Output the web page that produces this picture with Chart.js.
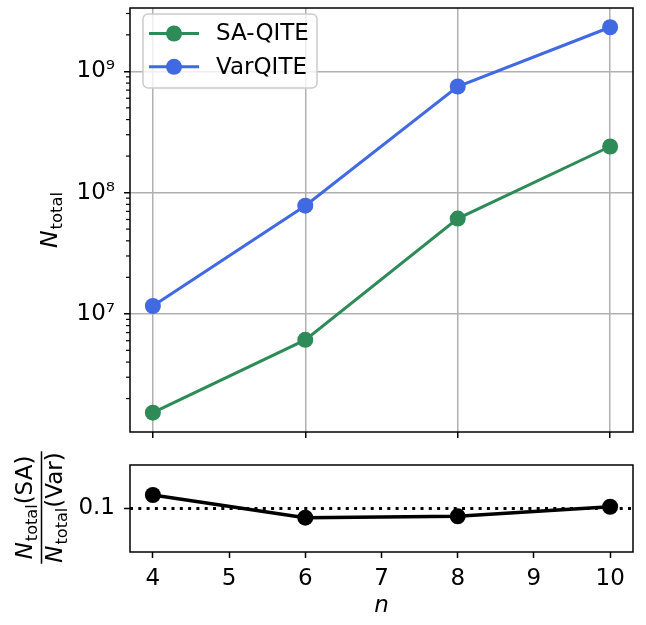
<!DOCTYPE html>
<html>
<head>
<meta charset="utf-8">
<script src="https://cdn.jsdelivr.net/npm/chart.js@4.4.1/dist/chart.umd.min.js"></script>
<style>
  body { margin: 0; background: #fff; }
  #wrap { position: relative; width: 646px; height: 625px; }
  #top { position: absolute; left: 0; top: 0; }
  #bot { position: absolute; left: 0; top: 440px; }
</style>
</head>
<body>
<div id="wrap">
  <canvas id="top" width="646" height="440"></canvas>
  <canvas id="bot" width="646" height="185"></canvas>
</div>
<script>
// values
const nValues    = [4, 6, 8, 10];
const saQite     = [1.53e6, 6.1e6, 6.1e7, 2.4e8];
const varQite    = [1.16e7, 7.8e7, 7.5e8, 2.31e9];
const ratio      = [0.131, 0.079, 0.082, 0.104];
const nTicksTop  = [4, 6, 8, 10];
const nTicksBot  = [4, 5, 6, 7, 8, 9, 10];
const yMajorTop  = [1e7, 1e8, 1e9];
const ratioTicks = [0.1];
const refRatio   = 0.1;

const GREEN = '#2e8b57';
const BLUE  = '#4169e1';
const GRID  = '#b0b0b0';
const FAM   = "'DejaVu Sans'";

Chart.defaults.font.family = 'DejaVu Sans';
Chart.defaults.font.size = 23;
Chart.defaults.color = '#000';

const SUP = '⁰¹²³⁴⁵⁶⁷⁸⁹';
const sup = e => String(e).split('').map(c => SUP[+c]).join('');
const xy = ys => nValues.map((n, i) => ({ x: n, y: ys[i] }));
const isMajor = v => yMajorTop.includes(v);

function minorLogTicks(min, max) {
  const out = [];
  for (let d = 6; d <= 9; d++) {
    for (let k = 1; k <= 9; k++) {
      const v = k * Math.pow(10, d);
      if (v >= min && v <= max) out.push(isMajor(v) ? v : +v.toPrecision(3));
    }
  }
  return out;
}

// keep the plot area where we put it: no extra room for label overflow
function fixY(w) {
  return s => { s.width = w; s.paddingTop = 0; s.paddingBottom = 0; };
}
function fixX(h) {
  return s => { s.height = h; s.paddingLeft = 0; s.paddingRight = 0; };
}

// matplotlib-like frame round the plot area
const frame = {
  id: 'frame',
  afterDatasetsDraw(chart) {
    const { ctx, chartArea: a } = chart;
    ctx.save();
    ctx.strokeStyle = '#000';
    ctx.lineWidth = 1.5;
    ctx.strokeRect(a.left, a.top, a.right - a.left, a.bottom - a.top);
    ctx.restore();
  }
};

// short minor ticks on the log axis
const minorTicks = {
  id: 'minorTicks',
  afterDraw(chart) {
    const { ctx, chartArea: a, scales: { y } } = chart;
    ctx.save();
    ctx.strokeStyle = '#000';
    ctx.lineWidth = 1.2;
    y.ticks.filter(t => !isMajor(t.value)).forEach(t => {
      const py = y.getPixelForValue(t.value);
      ctx.beginPath();
      ctx.moveTo(a.left - 4, py);
      ctx.lineTo(a.left, py);
      ctx.stroke();
    });
    ctx.restore();
  }
};

// legend box in the top-left corner
const legendBox = {
  id: 'legendBox',
  afterDatasetsDraw(chart) {
    const ctx = chart.ctx;
    const x0 = 143, y0 = 14, w = 174, h = 74, r = 5;
    ctx.save();
    ctx.beginPath();
    ctx.roundRect(x0, y0, w, h, r);
    ctx.fillStyle = 'rgba(255,255,255,0.8)';
    ctx.fill();
    ctx.strokeStyle = '#cccccc';
    ctx.lineWidth = 1.5;
    ctx.stroke();
    ctx.font = `23px ${FAM}`;
    ctx.textBaseline = 'middle';
    chart.data.datasets.forEach((ds, i) => {
      const cy = 33.5 + i * 33.3;
      ctx.strokeStyle = ds.borderColor;
      ctx.lineWidth = 3;
      ctx.beginPath();
      ctx.moveTo(149, cy);
      ctx.lineTo(199, cy);
      ctx.stroke();
      ctx.fillStyle = ds.borderColor;
      ctx.beginPath();
      ctx.arc(174, cy, 8, 0, Math.PI * 2);
      ctx.fill();
      ctx.fillStyle = '#000';
      ctx.fillText(ds.label, 216, cy + 1);
    });
    ctx.restore();
  }
};

// draws "N" + subscript "total" + rest, horizontally from x
function drawSubLabel(ctx, x, base, size, rest) {
  ctx.font = `italic ${size}px ${FAM}`;
  ctx.fillText('N', x, base);
  x += ctx.measureText('N').width + 1;
  ctx.font = `${size * 0.7}px ${FAM}`;
  ctx.fillText('total', x, base + size * 0.22);
  x += ctx.measureText('total').width;
  if (rest) {
    ctx.font = `${size}px ${FAM}`;
    ctx.fillText(rest, x, base);
  }
}
function subLabelWidth(ctx, size, rest) {
  ctx.font = `italic ${size}px ${FAM}`;
  let w = ctx.measureText('N').width + 1;
  ctx.font = `${size * 0.7}px ${FAM}`;
  w += ctx.measureText('total').width;
  if (rest) {
    ctx.font = `${size}px ${FAM}`;
    w += ctx.measureText(rest).width;
  }
  return w;
}

const topTitle = {
  id: 'topTitle',
  afterDraw(chart) {
    const { ctx, chartArea: a } = chart;
    ctx.save();
    ctx.translate(57, (a.top + a.bottom) / 2);
    ctx.rotate(-Math.PI / 2);
    ctx.fillStyle = '#000';
    ctx.textBaseline = 'alphabetic';
    const w = subLabelWidth(ctx, 23.5, '');
    drawSubLabel(ctx, -w / 2, 0, 23.5, '');
    ctx.restore();
  }
};

const fracTitle = {
  id: 'fracTitle',
  afterDraw(chart) {
    const { ctx, chartArea: a } = chart;
    const size = 23;
    ctx.save();
    ctx.translate(41.5, (a.top + a.bottom) / 2 - 1);
    ctx.rotate(-Math.PI / 2);
    ctx.fillStyle = '#000';
    ctx.textBaseline = 'alphabetic';
    const wn = subLabelWidth(ctx, size, '(SA)');
    const wd = subLabelWidth(ctx, size, '(Var)');
    const wb = Math.max(wn, wd) + 2;
    drawSubLabel(ctx, -wn / 2, -10, size, '(SA)');
    drawSubLabel(ctx, -wd / 2, 20.5, size, '(Var)');
    ctx.fillRect(-wb / 2, -0.75, wb, 1.5);
    ctx.restore();
  }
};

// dotted reference line at 0.1
const refLine = {
  id: 'refLine',
  beforeDatasetsDraw(chart) {
    const { ctx, chartArea: a, scales: { y } } = chart;
    const py = y.getPixelForValue(refRatio);
    ctx.save();
    ctx.strokeStyle = '#000';
    ctx.lineWidth = 3;
    ctx.setLineDash([3, 5.3]);
    ctx.beginPath();
    ctx.moveTo(a.left, py);
    ctx.lineTo(a.right, py);
    ctx.stroke();
    ctx.restore();
  }
};

const lineStyle = color => ({
  borderColor: color,
  backgroundColor: color,
  borderWidth: 3,
  pointRadius: 8,
  pointBorderWidth: 0,
  pointBackgroundColor: color,
  tension: 0,
  clip: false,
});

new Chart(document.getElementById('top'), {
  type: 'line',
  data: {
    datasets: [
      { label: 'SA-QITE', data: xy(saQite), ...lineStyle(GREEN) },
      { label: 'VarQITE', data: xy(varQite), ...lineStyle(BLUE) },
    ],
  },
  options: {
    responsive: false,
    animation: false,
    layout: { padding: { left: 0, right: 13, top: 3, bottom: 0 } },
    plugins: { legend: { display: false }, tooltip: { enabled: false } },
    scales: {
      x: {
        type: 'linear', min: 3.7, max: 10.3, bounds: 'data',
        afterBuildTicks: s => { s.ticks = nTicksTop.map(v => ({ value: v })); },
        afterFit: fixX(8),
        ticks: { display: false },
        grid: { color: GRID, lineWidth: 1.5, tickColor: '#000', tickLength: 6, tickWidth: 1.5 },
        border: { display: false },
      },
      y: {
        type: 'logarithmic', min: 1.06e6, max: 3.33e9, bounds: 'data',
        afterBuildTicks: s => { s.ticks = minorLogTicks(s.min, s.max).map(v => ({ value: v })); },
        afterFit: fixY(130),
        ticks: {
          autoSkip: false, padding: 9,
          callback: v => isMajor(v) ? '10' + sup(Math.round(Math.log10(v))) : '',
        },
        grid: {
          lineWidth: 1.5, tickLength: 6, tickWidth: 1.5,
          color: c => (c.tick && isMajor(c.tick.value)) ? GRID : 'rgba(0,0,0,0)',
          tickColor: c => (c.tick && isMajor(c.tick.value)) ? '#000' : 'rgba(0,0,0,0)',
        },
        border: { display: false },
      },
    },
  },
  plugins: [frame, legendBox, minorTicks, topTitle],
});

new Chart(document.getElementById('bot'), {
  type: 'line',
  data: {
    datasets: [{ label: 'ratio', data: xy(ratio), ...lineStyle('#000'), borderWidth: 3.5 }],
  },
  options: {
    responsive: false,
    animation: false,
    layout: { padding: { left: 0, right: 13, top: 25, bottom: 0 } },
    plugins: { legend: { display: false }, tooltip: { enabled: false } },
    scales: {
      x: {
        type: 'linear', min: 3.7, max: 10.3, bounds: 'data',
        afterBuildTicks: s => { s.ticks = nTicksBot.map(v => ({ value: v })); },
        afterFit: fixX(73),
        ticks: { autoSkip: false, maxRotation: 0, padding: 7, callback: v => String(v) },
        grid: { drawOnChartArea: false, tickColor: '#000', tickLength: 6, tickWidth: 1.5 },
        border: { display: false },
        title: { display: true, text: 'n', font: { style: 'italic', size: 23 }, padding: { top: 0, bottom: 5 } },
      },
      y: {
        type: 'linear', min: 0, max: 0.2, bounds: 'data',
        afterBuildTicks: s => { s.ticks = ratioTicks.map(v => ({ value: v })); },
        afterFit: fixY(130),
        ticks: { padding: 9, callback: v => String(v) },
        grid: { drawOnChartArea: false, tickColor: '#000', tickLength: 6, tickWidth: 1.5 },
        border: { display: false },
      },
    },
  },
  plugins: [refLine, frame, fracTitle],
});
</script>
</body>
</html>
